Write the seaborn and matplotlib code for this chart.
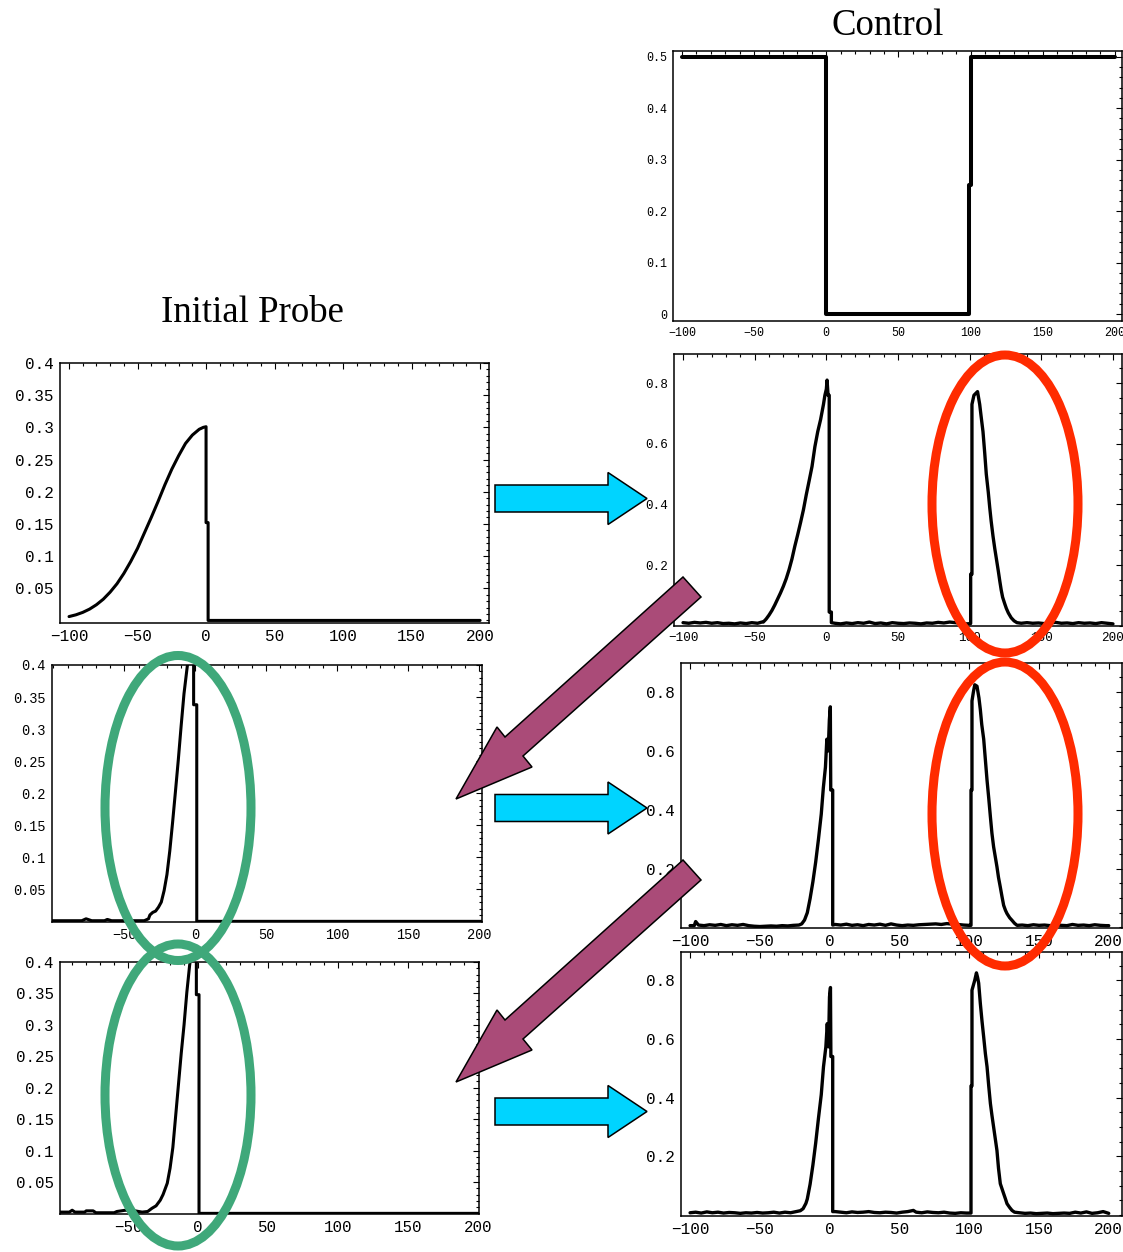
import matplotlib
matplotlib.use("Agg")
import matplotlib.pyplot as plt
from matplotlib.patches import Ellipse, Polygon
from matplotlib.ticker import MultipleLocator, FixedLocator, FixedFormatter
import seaborn as sns

sns.set_style("white")
plt.rcParams["font.family"] = ["Liberation Mono", "DejaVu Sans"]
plt.rcParams["text.color"] = "black"

W, H = 1123, 1252

# ---------------------------------------------------------------- data
# control field: (time, amplitude)
control_pts = [(-100, 0.5), (0, 0.5), (0, 0.0), (99.3, 0.0), (99.3, 0.25),
               (100, 0.25), (100, 0.5), (200, 0.5)]

# initial probe pulse
probe0_pts = [(-100, 0.006), (-95, 0.0087), (-90, 0.0125), (-85, 0.0176), (-80, 0.0244),
              (-75, 0.033), (-70, 0.044), (-65, 0.057), (-60, 0.073), (-55, 0.0915),
              (-50, 0.112), (-45, 0.136), (-40, 0.160), (-35, 0.185), (-30, 0.211),
              (-25, 0.235), (-20, 0.256), (-15, 0.275), (-10, 0.288), (-5, 0.297),
              (-2, 0.300), (0, 0.301), (0, 0.152), (1.5, 0.152), (1.5, 0.0), (200, 0.0)]

# output after first pass
out1_pts = [(-100, 0.010), (-96, 0.008), (-92, 0.011), (-88, 0.009), (-84, 0.011),
            (-80, 0.008), (-76, 0.010), (-72, 0.007), (-68, 0.008), (-64, 0.006),
            (-60, 0.009), (-56, 0.007), (-52, 0.010), (-48, 0.008), (-45, 0.012),
            (-44, 0.012), (-42, 0.022), (-40, 0.035), (-38, 0.050), (-36, 0.068),
            (-34, 0.088), (-32, 0.108), (-30, 0.130), (-28, 0.155), (-26, 0.185),
            (-24, 0.220), (-22, 0.262), (-20, 0.300), (-18, 0.340), (-16, 0.382),
            (-14, 0.432), (-12, 0.478), (-10, 0.525), (-8, 0.590), (-6, 0.640),
            (-4, 0.680), (-2, 0.730), (-1, 0.760), (0, 0.780), (0.5, 0.810),
            (1.2, 0.760), (2.0, 0.760), (2.0, 0.045), (3.5, 0.045), (3.5, 0.010),
            (6, 0.008), (10, 0.006), (14, 0.009), (18, 0.007), (22, 0.010), (26, 0.008),
            (30, 0.012), (34, 0.007), (38, 0.009), (42, 0.006), (46, 0.010), (50, 0.008),
            (54, 0.007), (58, 0.009), (62, 0.008), (66, 0.006), (70, 0.009), (74, 0.008),
            (78, 0.011), (82, 0.009), (86, 0.012), (90, 0.010), (94, 0.008), (98, 0.006),
            (100.7, 0.007), (100.7, 0.17), (101.6, 0.17), (101.6, 0.73), (103, 0.76),
            (105.5, 0.772), (107, 0.73), (108, 0.69), (109.3, 0.64), (110.5, 0.57),
            (111.6, 0.50), (113, 0.44), (114, 0.39), (115, 0.345), (116.3, 0.295),
            (117.5, 0.255), (118.6, 0.222), (120, 0.18), (121, 0.148), (122, 0.118),
            (123, 0.094), (124.5, 0.072), (125.6, 0.057), (127, 0.042), (129, 0.026),
            (131, 0.016), (133, 0.010), (136, 0.008), (140, 0.010), (144, 0.008),
            (148, 0.009), (152, 0.007), (156, 0.009), (160, 0.011), (164, 0.008),
            (168, 0.009), (172, 0.007), (176, 0.010), (180, 0.008), (184, 0.009),
            (188, 0.007), (192, 0.010), (196, 0.008), (200, 0.006)]

# probe after first update
probe1_pts = [(-101, 0.001), (-80, 0.001), (-77, 0.004), (-73, 0.001), (-64, 0.001),
              (-62, 0.003), (-59, 0.001), (-36, 0.001), (-33, 0.004), (-32, 0.010),
              (-30, 0.014), (-28, 0.016), (-26, 0.022), (-24, 0.030), (-22, 0.048),
              (-20, 0.073), (-18, 0.110), (-16, 0.155), (-14, 0.203), (-12, 0.252),
              (-10, 0.305), (-8, 0.355), (-6, 0.392), (-5, 0.41), (-1.2, 0.41),
              (-1.2, 0.338), (1.0, 0.338), (1.0, 0.0), (202, 0.0)]

# output after second pass
out2_pts = [(-100, 0.006), (-97, 0.006), (-96, 0.020), (-94, 0.008), (-90, 0.006),
            (-86, 0.009), (-82, 0.007), (-78, 0.010), (-74, 0.006), (-70, 0.009),
            (-66, 0.007), (-62, 0.010), (-58, 0.006), (-54, 0.004), (-50, 0.003),
            (-46, 0.004), (-42, 0.005), (-38, 0.004), (-34, 0.006), (-30, 0.005),
            (-26, 0.007), (-22, 0.008), (-20, 0.012), (-18, 0.025), (-16, 0.050),
            (-14, 0.098), (-12, 0.155), (-10, 0.222), (-8, 0.300), (-6, 0.385),
            (-4.5, 0.475), (-3, 0.545), (-2, 0.640), (-1, 0.600), (-0.2, 0.705),
            (0.5, 0.750), (0.8, 0.467), (2.2, 0.467), (2.2, 0.008),
            (4, 0.010), (8, 0.008), (12, 0.011), (16, 0.007), (20, 0.009), (24, 0.006),
            (28, 0.010), (32, 0.008), (36, 0.011), (40, 0.007), (44, 0.012), (48, 0.008),
            (52, 0.006), (56, 0.008), (60, 0.007), (64, 0.009), (68, 0.010), (72, 0.011),
            (76, 0.012), (80, 0.010), (84, 0.013), (88, 0.011), (92, 0.010), (96, 0.008),
            (100, 0.007), (101.3, 0.007), (101.3, 0.467), (102, 0.467), (102, 0.77),
            (103, 0.80), (104, 0.825), (105.6, 0.82), (107, 0.78), (108, 0.74),
            (109, 0.69), (110.4, 0.64), (111.6, 0.57), (112.8, 0.50), (114, 0.44),
            (115.2, 0.376), (116.3, 0.32), (117.5, 0.274), (118.7, 0.24), (119.9, 0.206),
            (121, 0.17), (122.3, 0.137), (123.5, 0.105), (124.7, 0.075), (126, 0.058),
            (127.1, 0.047), (129, 0.033), (130.7, 0.024), (132.5, 0.014), (134.3, 0.007),
            (138, 0.008), (142, 0.006), (146, 0.009), (150, 0.007), (154, 0.008),
            (158, 0.006), (162, 0.009), (166, 0.007), (170, 0.006), (174, 0.010),
            (178, 0.007), (182, 0.008), (186, 0.006), (190, 0.009), (194, 0.007),
            (198, 0.006), (200, 0.006)]

# probe after second update
probe2_pts = [(-99, 0.002), (-92, 0.002), (-90, 0.005), (-88, 0.002), (-81, 0.002),
              (-80, 0.004), (-75, 0.004), (-73, 0.001), (-60, 0.001), (-58, 0.003),
              (-52, 0.005), (-45, 0.004), (-40, 0.002), (-36, 0.003), (-33, 0.008),
              (-30, 0.012), (-27, 0.021), (-25, 0.030), (-22, 0.048), (-20, 0.072),
              (-18, 0.105), (-16, 0.155), (-14, 0.205), (-12, 0.255), (-10, 0.300),
              (-8, 0.352), (-6, 0.395), (-5, 0.41), (-1.2, 0.41), (-1.2, 0.348),
              (0.7, 0.348), (0.7, 0.0), (201, 0.0)]

# output after third pass
out3_pts = [(-100, 0.008), (-96, 0.010), (-92, 0.007), (-88, 0.011), (-84, 0.008),
            (-80, 0.010), (-76, 0.007), (-72, 0.009), (-68, 0.008), (-64, 0.006),
            (-60, 0.008), (-56, 0.007), (-52, 0.009), (-48, 0.007), (-44, 0.008),
            (-40, 0.010), (-36, 0.007), (-32, 0.010), (-28, 0.008), (-24, 0.012),
            (-21, 0.015), (-19, 0.022), (-17, 0.040), (-16, 0.055), (-14, 0.105),
            (-12, 0.170), (-10, 0.245), (-8, 0.330), (-6, 0.410), (-4.4, 0.505),
            (-2.7, 0.573), (-1.7, 0.652), (-0.8, 0.573), (-0.1, 0.743), (0.6, 0.775),
            (0.9, 0.540), (2.2, 0.540), (2.2, 0.012),
            (4, 0.012), (8, 0.010), (12, 0.008), (16, 0.011), (20, 0.009), (24, 0.010),
            (28, 0.012), (32, 0.009), (36, 0.008), (40, 0.010), (44, 0.009), (48, 0.007),
            (52, 0.010), (56, 0.012), (60, 0.016), (62, 0.010), (66, 0.008), (70, 0.011),
            (74, 0.009), (78, 0.008), (82, 0.010), (86, 0.007), (90, 0.006), (94, 0.008),
            (98, 0.007), (101.3, 0.007), (101.3, 0.44), (102, 0.44), (102, 0.766),
            (104, 0.80), (105.2, 0.825), (106, 0.81), (106.8, 0.79), (108, 0.72),
            (109.2, 0.66), (110.4, 0.606), (111.6, 0.55), (112.8, 0.505), (114, 0.44),
            (115.2, 0.38), (116.3, 0.34), (117.5, 0.30), (118.7, 0.26), (119.9, 0.22),
            (121, 0.16), (122.3, 0.107), (123.5, 0.09), (124.7, 0.073), (126, 0.055),
            (127.1, 0.039), (129, 0.026), (130.7, 0.016), (132.5, 0.010), (136, 0.008),
            (140, 0.006), (144, 0.007), (148, 0.005), (152, 0.006), (156, 0.007),
            (160, 0.005), (164, 0.006), (168, 0.007), (172, 0.006), (176, 0.010),
            (180, 0.007), (184, 0.011), (188, 0.006), (192, 0.008), (196, 0.012),
            (200, 0.006)]

x_ticks_full = [-100, -50, 0, 50, 100, 150, 200]
x_ticks_short = [-50, 0, 50, 100, 150, 200]
control_yticks = [0, 0.1, 0.2, 0.3, 0.4, 0.5]
probe_yticks = [0.05, 0.1, 0.15, 0.2, 0.25, 0.3, 0.35, 0.4]
output_yticks = [0.2, 0.4, 0.6, 0.8]


def fmt(v):
    s = f"{v:g}"
    return s.replace("-", "\u2212")


fig = plt.figure(figsize=(W / 100, H / 100), dpi=100)
fig.patch.set_facecolor("white")


def panel(box, pts, xlim, ylim, xt, yt, ymin_step, fs, lw):
    left, top, right, bottom = box
    ax = fig.add_axes([left / W, 1 - bottom / H, (right - left) / W, (bottom - top) / H])
    xs = [p[0] for p in pts]
    ys = [p[1] for p in pts]
    sns.lineplot(x=xs, y=ys, ax=ax, color="black", linewidth=lw,
                 estimator=None, sort=False, legend=False)
    ax.set_xlim(*xlim)
    ax.set_ylim(*ylim)
    ax.xaxis.set_major_locator(FixedLocator(xt))
    ax.xaxis.set_major_formatter(FixedFormatter([fmt(v) for v in xt]))
    ax.yaxis.set_major_locator(FixedLocator(yt))
    ax.yaxis.set_major_formatter(FixedFormatter([fmt(v) for v in yt]))
    ax.xaxis.set_minor_locator(MultipleLocator(10))
    ax.yaxis.set_minor_locator(MultipleLocator(ymin_step))
    ax.tick_params(which="both", direction="in", top=True, right=True,
                   width=0.8, color="black", labelsize=fs, pad=4.5,
                   labelcolor="black")
    ax.tick_params(which="major", length=4.5)
    ax.tick_params(which="minor", length=2.2)
    for sp in ax.spines.values():
        sp.set_linewidth(1.1)
        sp.set_color("black")
        sp.set_visible(True)
    ax.set_xlabel("")
    ax.set_ylabel("")
    ax.set_facecolor("white")
    return ax


panel((673, 51, 1122, 321), control_pts, (-106.2, 205.0), (-0.0136, 0.511),
      x_ticks_full, control_yticks, 0.02, 8.4, 2.9)
panel((60, 363, 489, 623), probe0_pts, (-106.6, 206.5), (-0.004, 0.4),
      x_ticks_full, probe_yticks, 0.01, 11.5, 2.2)
panel((674, 354, 1122, 626), out1_pts, (-106.3, 206.3), (-0.001, 0.896),
      x_ticks_full, output_yticks, 0.05, 9.1, 2.4)
panel((52, 665, 482, 922), probe1_pts, (-101.0, 202.0), (-0.001, 0.4),
      x_ticks_short, probe_yticks, 0.01, 9.8, 2.2)
panel((681, 663, 1122, 928), out2_pts, (-106.5, 209.5), (-0.002, 0.899),
      x_ticks_full, output_yticks, 0.05, 11.5, 2.4)
panel((60, 962, 479, 1214), probe2_pts, (-98.7, 200.9), (-0.001, 0.4),
      x_ticks_short, probe_yticks, 0.01, 11.3, 2.2)
panel((681, 952, 1122, 1216), out3_pts, (-106.5, 209.5), (-0.003, 0.896),
      x_ticks_full, output_yticks, 0.05, 11.5, 2.4)

# headings
fig.text(888 / W, 1 - 35 / H, "Control", ha="center", va="baseline",
         family="Liberation Serif", size=26.5, color="black")
fig.text(252 / W, 1 - 322 / H, "Initial Probe", ha="center", va="baseline",
         family="Liberation Serif", size=26.5, color="black")

# annotation layer in figure pixel space
ov = fig.add_axes([0, 0, 1, 1])
ov.set_xlim(0, W)
ov.set_ylim(H, 0)
ov.axis("off")
ov.patch.set_alpha(0)

cyan = "#00D4FF"
purple = "#AA4B78"
green = "#3FA87A"
red = "#FF2B00"

for yc in (498.5, 808, 1111.5):
    shape = [(495, yc - 13.5), (608, yc - 13.5), (608, yc - 26), (647, yc),
             (608, yc + 26), (608, yc + 13.5), (495, yc + 13.5)]
    ov.add_patch(Polygon(shape, closed=True, facecolor=cyan, edgecolor="black",
                         linewidth=1.1, zorder=5))

for dy in (0, 283):
    shape = [(683, 577 + dy), (701, 597 + dy), (523, 756 + dy), (532, 767 + dy),
             (456, 799 + dy), (497, 727 + dy), (505, 737 + dy)]
    ov.add_patch(Polygon(shape, closed=True, facecolor=purple, edgecolor="black",
                         linewidth=1.1, zorder=5))

for cy, h in ((808, 305), (1095, 302)):
    ov.add_patch(Ellipse((178, cy), 146, h, fill=False, edgecolor=green,
                         linewidth=6.5, zorder=6))
for cy, h in ((504, 298), (814, 304)):
    ov.add_patch(Ellipse((1005, cy), 146, h, fill=False, edgecolor=red,
                         linewidth=6.5, zorder=6))

fig.savefig("out.png", dpi=100, facecolor="white")
